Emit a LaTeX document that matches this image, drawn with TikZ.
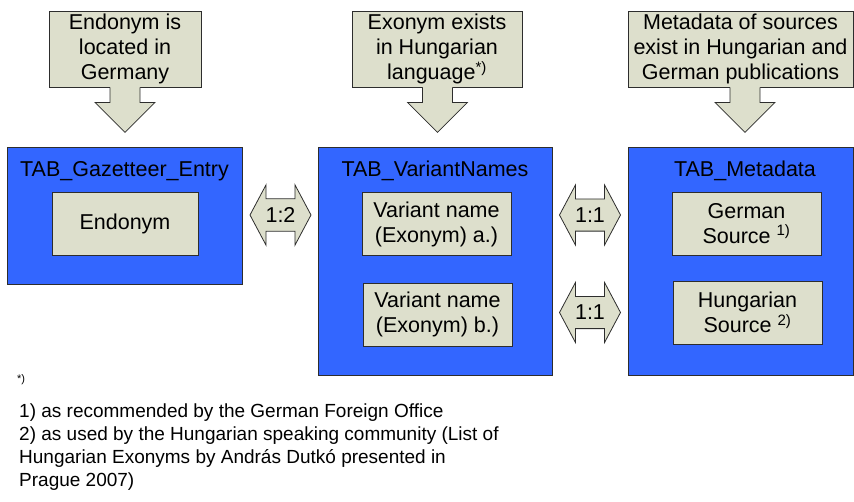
\documentclass[tikz,border=0pt]{standalone}
\usepackage{fontspec}
\setmainfont{Liberation Sans}
\usetikzlibrary{shapes.arrows}

\definecolor{notefill}{RGB}{221,223,204}
\definecolor{tabblue}{RGB}{51,102,255}
\definecolor{edgegray}{RGB}{45,45,45}

\tikzset{
    note/.style={
        draw=edgegray, fill=notefill, line width=0.8pt,
        inner sep=0pt, align=center,
        font=\fontsize{21.5}{25}\selectfont
    },
    tab/.style={
        draw=edgegray, fill=tabblue, line width=0.8pt, inner sep=0pt
    },
    tabtitle/.style={
        inner sep=0pt, font=\fontsize{21.5}{25}\selectfont
    },
    field/.style={
        note, minimum width=149pt, minimum height=63pt
    },
    link/.style={
        double arrow, draw=edgegray, fill=notefill, line width=0.8pt,
        double arrow head extend=14pt, double arrow tip angle=124,
        minimum height=61pt, inner xsep=0pt, inner ysep=8.3pt,
        font=\fontsize{21.5}{25}\selectfont
    }
}

% arrow hanging below a note box: #1 node, #2 x offset of the stem
\newcommand\notearrow[2]{%
  \fill[notefill] ([xshift=#2pt-15pt,yshift=1pt]#1.south) -- ++(0,16) -- ++(-15,0)
    -- ++(30,30) -- ++(30,-30) -- ++(-15,0) -- ++(0,-16) -- cycle;
  \draw[edgegray, line width=0.8pt] ([xshift=#2pt-15pt]#1.south) -- ++(0,15) -- ++(-15,0)
    -- ++(30,30) -- ++(30,-30) -- ++(-15,0) -- ++(0,-15);
}

\begin{document}
\begin{tikzpicture}[x=1pt, y=-1pt]
\useasboundingbox (0,0) rectangle (854,501);

% notes on top
\node[note, minimum width=152pt, minimum height=76pt] (noteGaz) at (125,49)
  {Endonym is\\located in\\Germany};
\node[note, minimum width=170pt, minimum height=76pt] (noteVar) at (437,49)
  {Exonym exists\\in Hungarian\\language\textsuperscript{*)}};
\node[note, minimum width=225pt, minimum height=76pt] (noteMeta) at (740.5,49)
  {Metadata of sources\\exist in Hungarian and\\German publications};
\notearrow{noteGaz}{0}
\notearrow{noteVar}{0.5}
\notearrow{noteMeta}{4.5}

% tables
\node[tab, minimum width=235pt, minimum height=137pt] (tabGaz) at (124.5,215.5) {};
\node[tab, minimum width=234pt, minimum height=228pt] (tabVar) at (435,261) {};
\node[tab, minimum width=225pt, minimum height=228pt] (tabMeta) at (740.5,261) {};
\node[tabtitle] (titleGaz) at (124.5,171) {TAB\_Gazetteer\_Entry};
\node[tabtitle] (titleVar) at (435,171) {TAB\_VariantNames};
\node[tabtitle] (titleMeta) at (745,171) {TAB\_Metadata};

% fields
\node[field, minimum width=146pt] (endonym) at (125,223.5) {Endonym};
\node[field] (varA) at (436.5,224) {Variant name\\(Exonym) a.)};
\node[field] (varB) at (437.5,314.5) {Variant name\\(Exonym) b.)};
\node[field] (srcGer) at (746.5,223.5) {German\\Source \textsuperscript{1)}};
\node[field] (srcHun) at (747.5,312.5) {Hungarian\\Source \textsuperscript{2)}};

% cardinalities
\node[link] (relGazVar) at (280.5,215) {1:2};
\node[link] (relGer) at (590,215) {1:1};
\node[link] (relHun) at (590,312.5) {1:1};

% footnotes
\node[anchor=west, inner sep=0pt, font=\fontsize{11}{13}\selectfont] (starNote) at (17,380) {*)};
\node[anchor=north west, inner sep=0pt, align=left, font=\fontsize{19}{23}\selectfont]
  (footNotes) at (19,404)
  {1) as recommended by the German Foreign Office\\
   2) as used by the Hungarian speaking community (List of\\
   Hungarian Exonyms by Andr\'as Dutk\'o presented in\\
   Prague 2007)};

\end{tikzpicture}
\end{document}
